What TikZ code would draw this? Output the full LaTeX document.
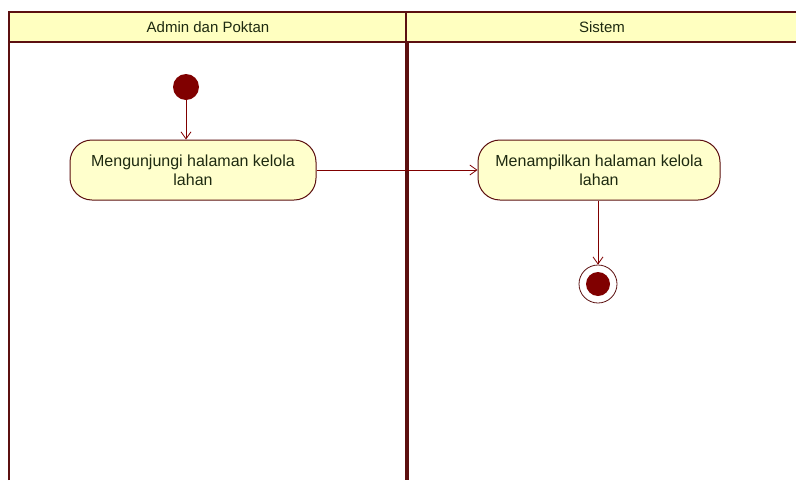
\documentclass[tikz,border=0pt]{standalone}
\usepackage{fontspec}
\setmainfont{Liberation Sans}
\usetikzlibrary{arrows.meta}
\definecolor{umlred}{HTML}{800000}
\definecolor{umlline}{HTML}{5C1010}
\definecolor{umlfill}{HTML}{FFFFCC}
\definecolor{umlhead}{HTML}{FFFFC0}
\definecolor{umltext}{HTML}{1E2A10}
\tikzset{
  activity/.style={draw=umlline, fill=umlfill, line width=1pt, rounded corners=22pt, minimum width=246pt,
    minimum height=60pt, align=center, font=\fontsize{16}{19}\selectfont, text=umltext, inner sep=2pt},
  flow/.style={draw=umlred, line width=0.8pt, -{Straight Barb[length=7pt,width=10pt]}},
  lanehead/.style={font=\fontsize{15}{17}\selectfont, text=umltext}
}
\begin{document}
\begin{tikzpicture}[x=1pt,y=-1pt]
\useasboundingbox (0,0) rectangle (796,480);
\fill[white] (0,0) rectangle (796,480);
% swimlane headers
\fill[umlhead] (9,12) rectangle (796,42);
\draw[umlline, line width=2pt] (9,480) -- (9,12) -- (796,12);
\draw[umlline, line width=2pt] (9,42) -- (796,42);
\draw[umlline, line width=1.2pt] (406,12) -- (406,42);
\draw[umlline, line width=4pt] (407,42) -- (407,480);
\node[lanehead] (laneA) at (208,27) {Admin dan Poktan};
\node[lanehead] (laneB) at (602,27) {Sistem};
% nodes
\node[circle, fill=umlred, minimum size=26pt, inner sep=0pt] (start) at (186,87) {};
\node[activity] (act1) at (193,170) {Mengunjungi halaman kelola\\lahan};
\node[activity, minimum width=242pt] (act2) at (599,170) {Menampilkan halaman kelola\\lahan};
\node[circle, draw=umlline, fill=white, line width=0.8pt, minimum size=38pt, inner sep=0pt] (final) at (598,284) {};
\node[circle, fill=umlred, minimum size=24pt, inner sep=0pt] (finalin) at (final) {};
% flows
\draw[flow] (start) -- (start |- act1.north);
\draw[flow] (act1) -- (act2);
\draw[flow] (act2.south -| final) -- (final);
\end{tikzpicture}
\end{document}
